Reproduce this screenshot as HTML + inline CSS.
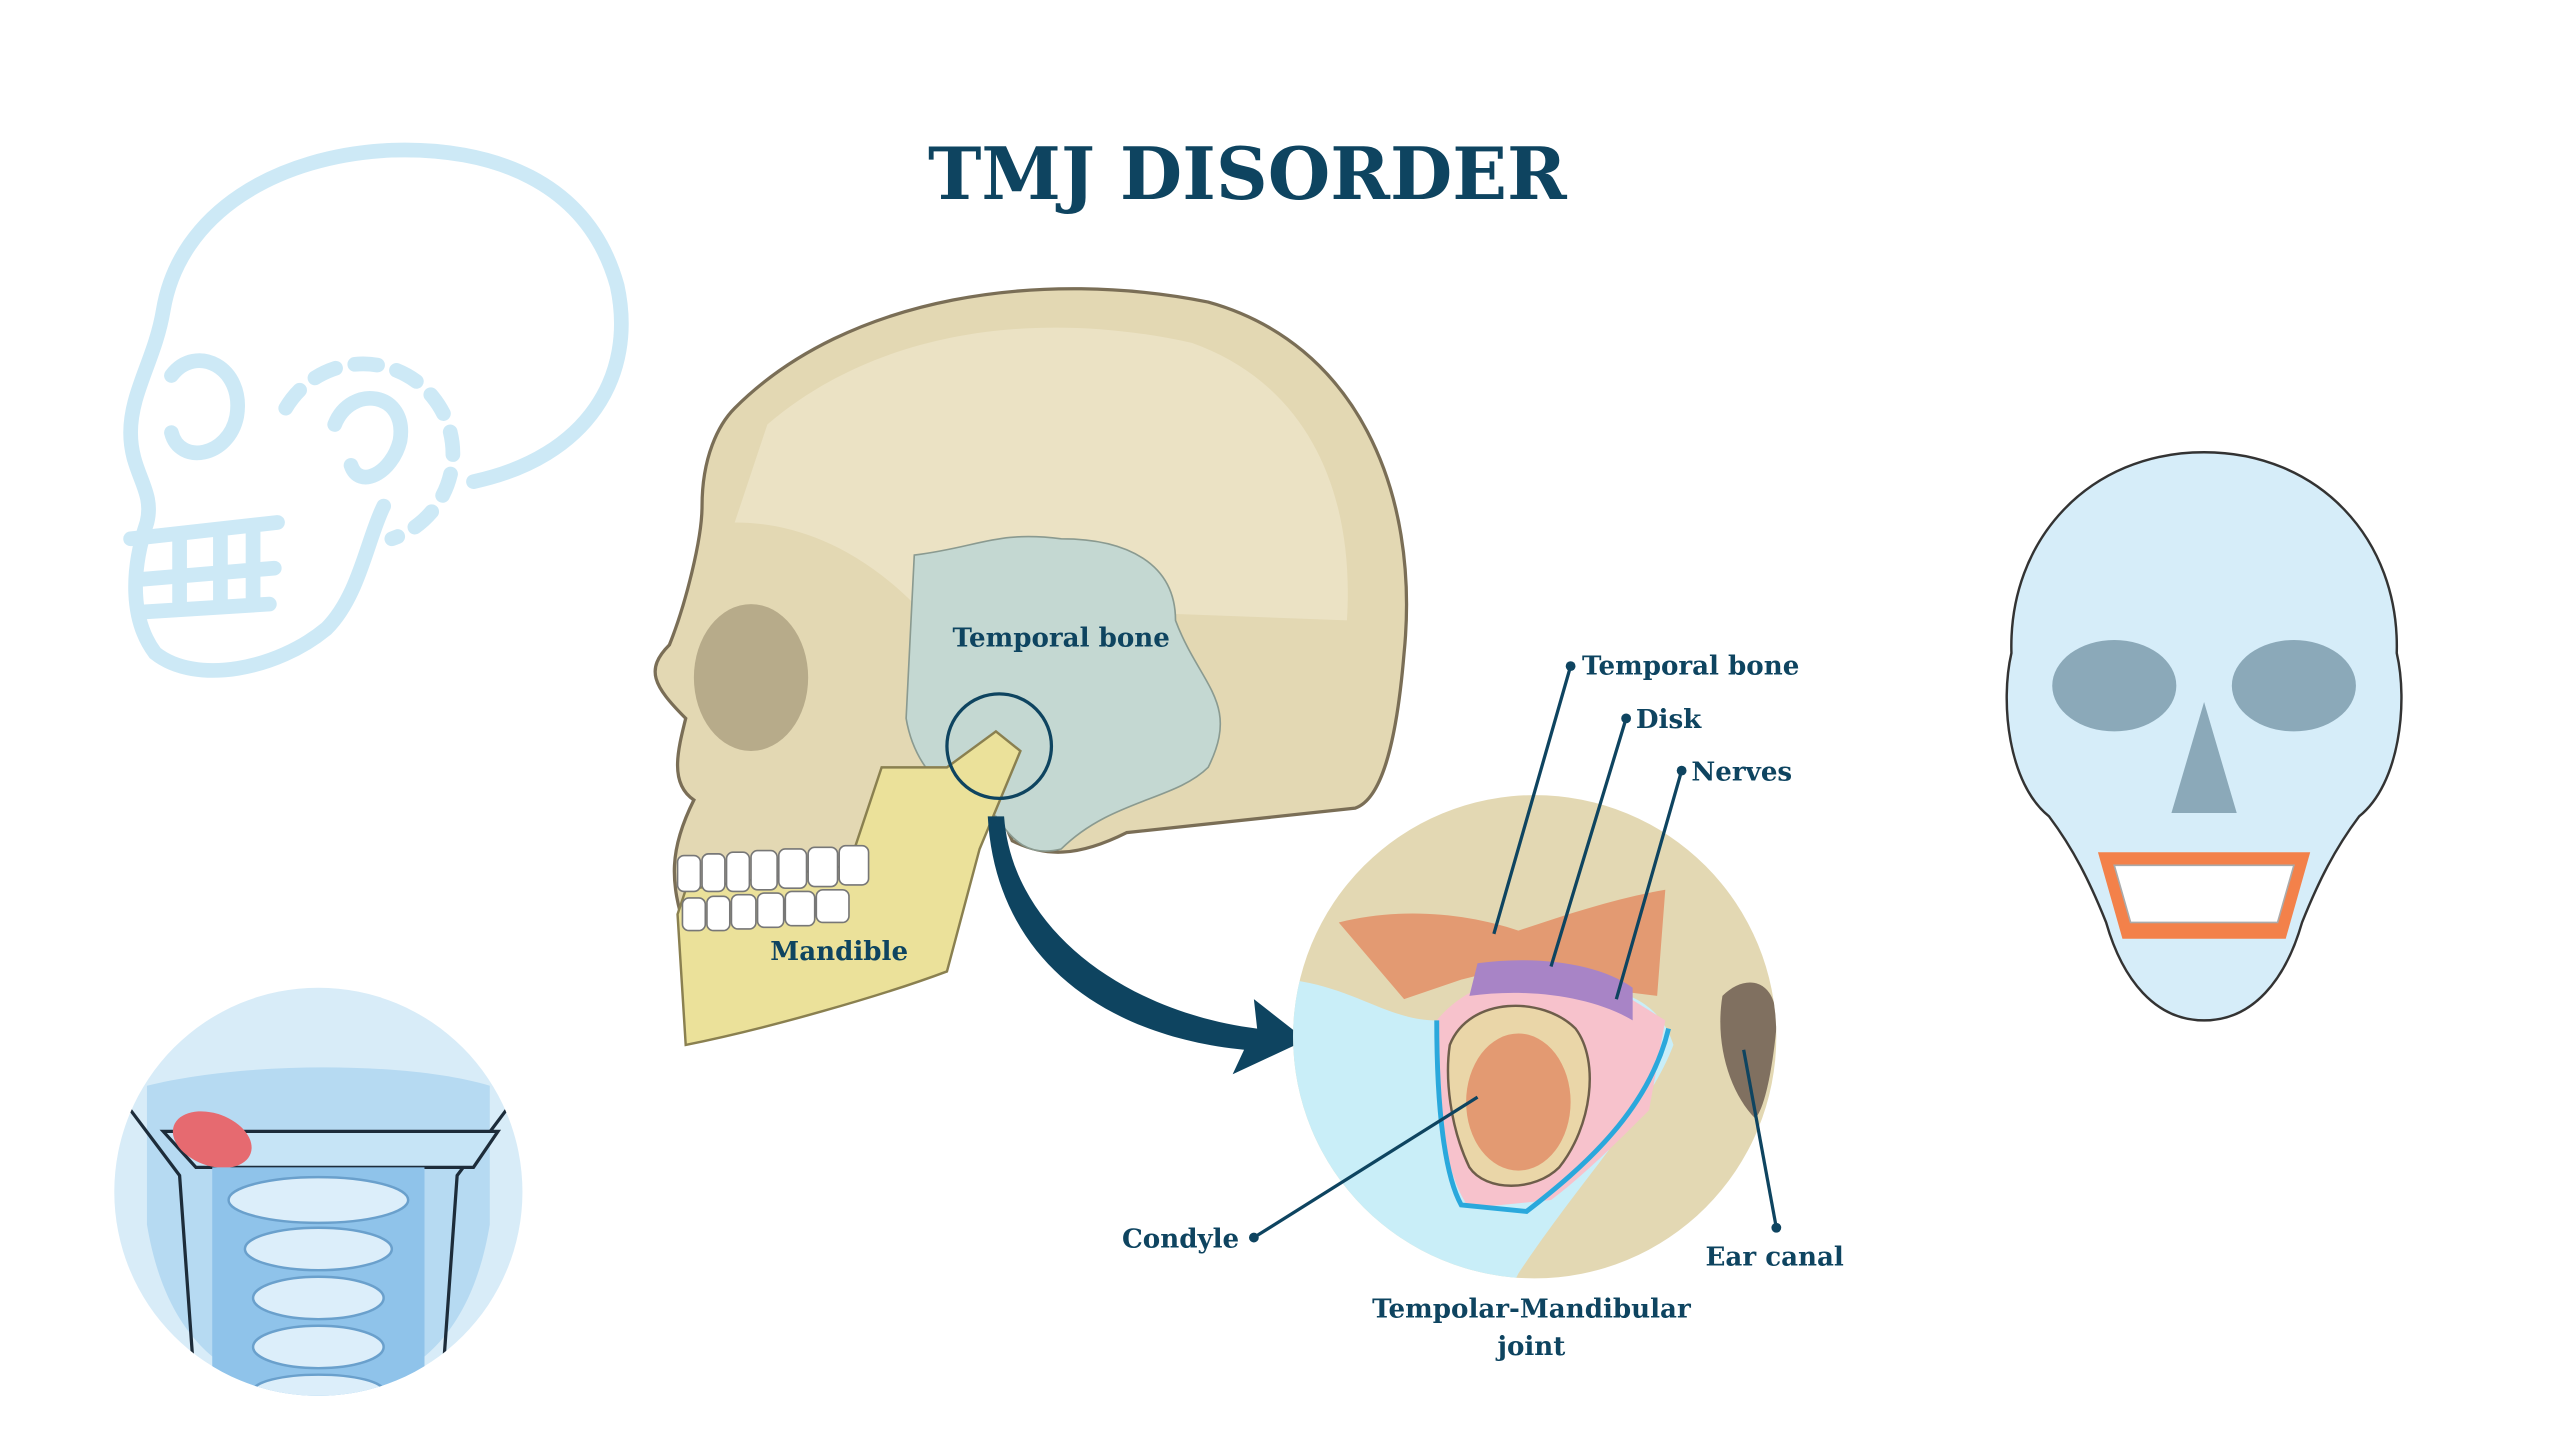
<!DOCTYPE html>
<html><head><meta charset="utf-8"><style>
html,body{margin:0;padding:0;background:#fff;width:2560px;height:1440px;overflow:hidden}
svg{display:block}
text{font-family:"DejaVu Serif","Liberation Serif",serif;font-weight:bold;fill:#0e4460}
</style></head><body>
<svg width="2560" height="1440" viewBox="0 0 1568 882" preserveAspectRatio="none">
<rect width="1568" height="882" fill="#fff"/>
<text x="764" y="122" text-anchor="middle" font-size="44" style="font-family:'DejaVu Serif',serif">TMJ DISORDER</text>

<!-- left outline skull -->
<g fill="none" stroke="#cde9f6" stroke-width="9" stroke-linecap="round">
<path d="M290,295 C360,280 390,230 378,175 C360,110 300,90 240,92 C170,95 110,130 100,190 C95,220 80,240 80,265 C80,290 95,300 90,320 C80,350 80,380 95,400 C120,420 170,410 200,385 C220,365 225,330 235,310"/>
<path d="M105,230 C120,210 150,225 145,255 C140,280 110,285 105,265"/>
<path d="M80,330 L170,320 M85,355 L168,348 M85,375 L165,370 M110,330 L110,372 M135,327 L135,370 M155,325 L155,368"/>
<path d="M205,260 C215,235 250,240 245,270 C240,290 220,300 215,285" />
<path d="M175,250 A55,55 0 1 1 240,330" stroke-dasharray="14 12"/>
</g>

<!-- bottom-left circle -->
<clipPath id="bc"><circle cx="195" cy="730" r="125"/></clipPath>
<circle cx="195" cy="730" r="125" fill="#d8ecf8"/>
<g clip-path="url(#bc)">
<path d="M90,665 C150,650 250,650 300,665 L300,750 C290,810 260,850 195,855 C130,850 100,810 90,750Z" fill="#b6daf2"/>
<path d="M80,680 L110,720 L120,860 M310,680 L280,720 L270,860" fill="none" stroke="#1d2c3a" stroke-width="2"/>
<path d="M100,693 L305,693 L290,715 L120,715Z" fill="#c6e4f6" stroke="#1d2c3a" stroke-width="2"/>
<ellipse cx="130" cy="698" rx="25" ry="16" fill="#e66a70" transform="rotate(20 130 698)"/>
<rect x="130" y="715" width="130" height="150" fill="#8fc3ea"/>
<g fill="#dceefa" stroke="#6aa0cc" stroke-width="1.5">
<ellipse cx="195" cy="735" rx="55" ry="14"/><ellipse cx="195" cy="765" rx="45" ry="13"/>
<ellipse cx="195" cy="795" rx="40" ry="13"/><ellipse cx="195" cy="825" rx="40" ry="13"/>
<ellipse cx="195" cy="852" rx="40" ry="10"/></g>
</g>

<!-- right skull -->
<path d="M1350,277 C1420,277 1470,330 1468,400 C1475,430 1470,480 1445,500 C1430,520 1420,540 1410,565 C1400,600 1380,625 1350,625 C1320,625 1300,600 1290,565 C1280,540 1270,520 1255,500 C1230,480 1225,430 1232,400 C1230,330 1280,277 1350,277Z" fill="#d6edf9" stroke="#333" stroke-width="1.5"/>
<ellipse cx="1295" cy="420" rx="38" ry="28" fill="#8ba9b9"/>
<ellipse cx="1405" cy="420" rx="38" ry="28" fill="#8ba9b9"/>
<path d="M1350,430 L1330,498 L1370,498Z" fill="#8ba9b9"/>
<path d="M1285,522 L1415,522 L1400,575 L1300,575Z" fill="#f3814a"/>
<path d="M1295,530 L1405,530 L1395,565 L1305,565Z" fill="#fff" stroke="#aaa" stroke-width="1"/>

<!-- main skull -->
<path d="M450,250 C520,180 640,165 740,185 C830,210 870,300 860,400 C855,460 845,490 830,495 L690,510 C660,525 640,525 620,515 L600,470 C580,510 560,540 530,560 L420,570 C410,540 410,520 425,490 C410,480 415,460 420,440 C400,420 395,410 410,395 C420,370 430,330 430,310 C430,280 440,260 450,250Z" fill="#e3d8b3" stroke="#7a6e56" stroke-width="2"/>
<path d="M470,260 C540,200 640,190 730,210 C800,235 830,300 825,380 L560,370 C520,330 480,320 450,320Z" fill="#ebe2c4"/>
<ellipse cx="460" cy="415" rx="35" ry="45" fill="#b7ab8a"/>
<path d="M560,340 C600,335 610,325 650,330 C690,330 720,345 720,380 C735,420 760,430 740,470 C720,490 680,490 650,520 C630,525 620,515 610,500 C580,490 560,470 555,440 Z" fill="#c4d8d2" stroke="#8a9a90" stroke-width="1"/>
<path d="M415,560 L420,640 C470,630 540,610 580,595 L600,520 L625,460 L610,448 L580,470 L540,470 L520,530 L420,545Z" fill="#ebe19a" stroke="#8a8050" stroke-width="1.5"/>
<g fill="#fff" stroke="#777" stroke-width="1">
<rect x="415" y="524" width="14" height="22" rx="4"/><rect x="430" y="523" width="14" height="23" rx="4"/><rect x="445" y="522" width="14" height="24" rx="4"/><rect x="460" y="521" width="16" height="24" rx="4"/><rect x="477" y="520" width="17" height="24" rx="4"/><rect x="495" y="519" width="18" height="24" rx="4"/><rect x="514" y="518" width="18" height="24" rx="4"/>
<rect x="418" y="550" width="14" height="20" rx="4"/><rect x="433" y="549" width="14" height="21" rx="4"/><rect x="448" y="548" width="15" height="21" rx="4"/><rect x="464" y="547" width="16" height="21" rx="4"/><rect x="481" y="546" width="18" height="21" rx="4"/><rect x="500" y="545" width="20" height="20" rx="4"/></g>
<circle cx="612" cy="457" r="32" fill="none" stroke="#0e4460" stroke-width="2"/>
<text x="650" y="396" text-anchor="middle" font-size="16">Temporal bone</text>
<text x="514" y="588" text-anchor="middle" font-size="16">Mandible</text>

<!-- arrow -->
<path d="M615,500 C620,570 690,620 770,630 L768,612 L800,637 L755,658 L762,643 C680,635 610,590 605,500Z" fill="#0e4460"/>

<!-- detail circle -->
<circle cx="940" cy="635" r="148" fill="#e3d8b3"/>
<clipPath id="c"><circle cx="940" cy="635" r="148"/></clipPath>
<g clip-path="url(#c)">
<path d="M790,600 C830,605 850,625 880,625 C900,610 940,600 980,605 C1010,610 1020,625 1025,640 C1010,680 970,720 930,780 L920,800 L780,800Z" fill="#c9eef8"/>
<path d="M820,565 C860,555 900,560 930,570 C960,560 990,550 1020,545 L1015,610 L975,605 L935,590 L895,600 L860,612 Z" fill="#e39a72"/>
<path d="M880,625 C900,600 940,590 980,600 L1020,625 L1010,680 C990,700 970,720 950,735 L900,740 C885,720 880,680 880,625Z" fill="#f7c2cc"/>
<path d="M905,590 C940,585 980,590 1000,605 L1000,625 C975,610 935,605 900,610Z" fill="#a884c6"/>
<path d="M888,640 C900,610 945,610 965,630 C980,650 975,690 955,715 C940,730 910,730 900,715 C888,690 885,660 888,640Z" fill="#ead6a8" stroke="#6e5e4a" stroke-width="1.5"/>
<ellipse cx="930" cy="675" rx="32" ry="42" fill="#e39a72"/>
<path d="M880,625 C880,680 885,720 895,738 L935,742 C970,715 1010,680 1022,630" fill="none" stroke="#2aa8dc" stroke-width="3"/>
<path d="M1055,610 C1070,595 1090,600 1088,630 C1085,660 1080,680 1075,685 C1060,670 1050,640 1055,610Z" fill="#807060"/>
</g>

<g stroke="#0e4460" stroke-width="2" fill="none">
<path d="M962,408 L915,572"/><path d="M996,440 L950,592"/><path d="M1030,472 L990,612"/>
<path d="M768,758 L905,672"/><path d="M1068,643 L1088,752"/></g>
<g fill="#0e4460"><circle cx="962" cy="408" r="3"/><circle cx="996" cy="440" r="3"/><circle cx="1030" cy="472" r="3"/><circle cx="768" cy="758" r="3"/><circle cx="1088" cy="752" r="3"/></g>
<g font-size="16">
<text x="969" y="413">Temporal bone</text>
<text x="1002" y="446">Disk</text>
<text x="1036" y="478">Nerves</text>
<text x="759" y="764" text-anchor="end">Condyle</text>
<text x="1087" y="775" text-anchor="middle">Ear canal</text>
<text x="938" y="807" text-anchor="middle">Tempolar-Mandibular</text>
<text x="938" y="830" text-anchor="middle">joint</text>
</g>
</svg>
</body></html>
